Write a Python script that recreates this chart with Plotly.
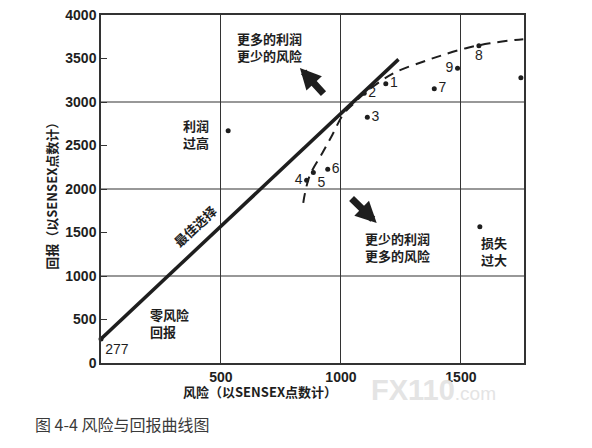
import plotly.graph_objects as go

# ---- data ----
CML_X = [0, 1240]
CML_Y = [277, 3490]

FRONTIER_X = [843, 850, 871, 922, 964, 1008, 1050, 1100, 1162, 1232, 1342, 1425, 1529, 1621, 1725, 1760]
FRONTIER_Y = [1840, 1950, 2161, 2410, 2621, 2851, 2975, 3103, 3233, 3348, 3463, 3540, 3624, 3675, 3713, 3722]

POINT_LABELS = ["277", "1", "2", "3", "4", "5", "6", "7", "8", "9", "", "", ""]
POINT_X = [0, 1187, 1097, 1110, 857, 885, 945, 1389, 1575, 1486, 530, 1579, 1750]
POINT_Y = [277, 3210, 3100, 2824, 2100, 2190, 2228, 3153, 3647, 3387, 2670, 1567, 3279]
LABEL_POS = ["bottom right", "middle right", "middle right", "middle right", "middle left",
             "bottom right", "middle right", "middle right", "bottom center", "middle left",
             "middle right", "middle right", "middle right"]

X_TICKS = [500, 1000, 1500]
Y_TICKS = [0, 500, 1000, 1500, 2000, 2500, 3000, 3500, 4000]
Y_GRID = [1000, 2000, 3000]

X_TITLE = "风险（以SENSEX点数计）"
Y_TITLE = "回报（以SENSEX点数计）"
CAPTION = "图 4-4 风险与回报曲线图"

INK = "#1e1e1e"
CJK = "Noto Sans CJK SC"
SANS = "Liberation Sans, Arial, sans-serif"

fig = go.Figure()

fig.add_trace(go.Scatter(
    x=FRONTIER_X, y=FRONTIER_Y, mode="lines",
    line=dict(color=INK, width=2, dash="10px,7px", shape="spline", smoothing=1.0),
    hoverinfo="skip", showlegend=False))

fig.add_trace(go.Scatter(
    x=CML_X, y=CML_Y, mode="lines",
    line=dict(color=INK, width=3.5),
    hoverinfo="skip", showlegend=False))

fig.add_trace(go.Scatter(
    x=POINT_X, y=POINT_Y, mode="markers+text",
    text=POINT_LABELS, textposition=LABEL_POS,
    textfont=dict(family=SANS, size=14, color=INK),
    marker=dict(color=INK, size=5),
    cliponaxis=False, hoverinfo="skip", showlegend=False))

for g in Y_GRID:
    fig.add_shape(type="line", xref="paper", x0=0, x1=1, yref="y", y0=g, y1=g,
                  line=dict(color="#333", width=1.2), layer="below")

ann_font = dict(family=CJK, size=13, color=INK, weight="bold")

fig.add_annotation(x=704, y=3632, text="更多的利润<br>更少的风险", showarrow=False, font=ann_font)
fig.add_annotation(x=1237, y=1333, text="更少的利润<br>更多的风险", showarrow=False, font=ann_font)
fig.add_annotation(x=1637, y=1282, text="损失<br>过大", showarrow=False, font=ann_font)
fig.add_annotation(x=394, y=2632, text="利润<br>过高", showarrow=False, font=ann_font)
fig.add_annotation(x=196, y=460, text="零风险<br>回报", showarrow=False, font=ann_font,
                   xanchor="left", align="left")
fig.add_annotation(x=390, y=1570, text="最佳选择", showarrow=False, font=ann_font, textangle=-43)

# thick arrows
fig.add_annotation(x=829, y=3391, ax=933, ay=3080, xref="x", yref="y", axref="x", ayref="y",
                   text="", showarrow=True, arrowhead=2, arrowsize=0.6, arrowwidth=7, arrowcolor=INK)
fig.add_annotation(x=1149, y=1609, ax=1038, ay=1908, xref="x", yref="y", axref="x", ayref="y",
                   text="", showarrow=True, arrowhead=2, arrowsize=0.6, arrowwidth=7, arrowcolor=INK)

# axis titles and caption
fig.add_annotation(xref="paper", yref="paper", x=0.376, y=-0.116, text=X_TITLE, showarrow=False,
                   font=dict(family=CJK, size=13, color=INK, weight="bold"))
fig.add_annotation(xref="paper", yref="paper", x=-0.144, y=0.488, text=Y_TITLE, showarrow=False,
                   textangle=-90, font=dict(family=CJK, size=13, color=INK, weight="bold"))
fig.add_annotation(xref="paper", yref="paper", x=-0.161, y=-0.2155, xanchor="left", text=CAPTION,
                   showarrow=False, font=dict(family=CJK, size=16, color="#3a3a3a"))
# watermark
fig.add_annotation(xref="paper", yref="paper", x=0.633, y=-0.13, xanchor="left", showarrow=False,
                   text="<b>FX110</b><span style='font-size:19px'>.com</span>",
                   font=dict(family=SANS, size=29, color="#e4e4e4"))

fig.update_layout(
    width=592, height=448,
    margin=dict(l=101, r=68, t=15, b=85, autoexpand=False),
    paper_bgcolor="white", plot_bgcolor="white",
    xaxis=dict(range=[0, 1763], tickvals=X_TICKS, showgrid=True, gridcolor="#333", gridwidth=1.2,
               zeroline=False, showline=True, linecolor="#333", linewidth=1.5, mirror=True,
               ticks="", automargin=False,
               tickfont=dict(family=SANS, size=14, color=INK, weight="bold")),
    yaxis=dict(range=[0, 4000], tickvals=Y_TICKS, showgrid=False, zeroline=False,
               showline=True, linecolor="#333", linewidth=1.5, mirror=True,
               ticks="inside", ticklen=6, tickcolor="#333", automargin=False,
               tickfont=dict(family=SANS, size=14, color=INK, weight="bold")),
)

fig.write_html("out.html", config={"displayModeBar": False},
               post_script="document.body.style.margin='0px';")
